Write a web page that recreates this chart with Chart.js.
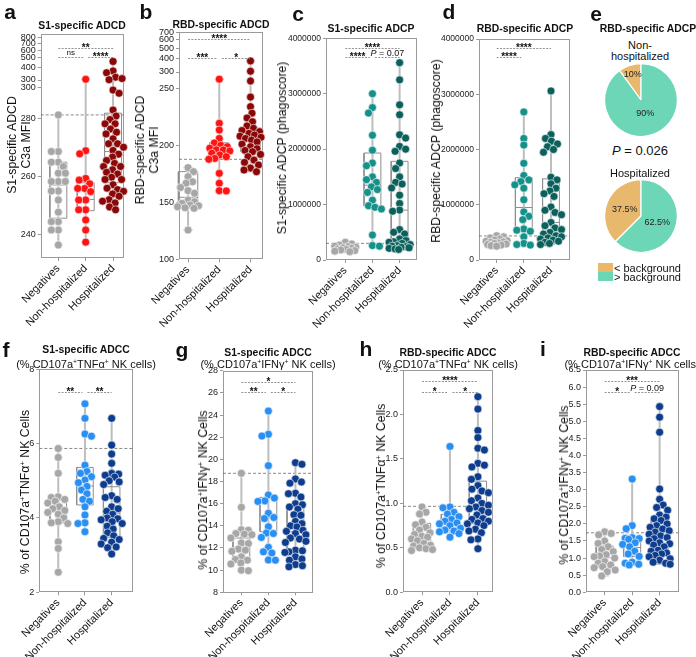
<!DOCTYPE html>
<html><head><meta charset="utf-8">
<script src="https://cdn.jsdelivr.net/npm/chart.js@4/dist/chart.umd.min.js"></script>
<style>
body{margin:0;width:696px;height:657px;position:relative;background:#fff;overflow:hidden;font-family:"Liberation Sans",Arial,Helvetica,sans-serif;color:#111}
.t{position:absolute;white-space:nowrap;line-height:1.15;text-align:center}
sup{font-size:0.62em;line-height:0;vertical-align:0.55em}
</style></head><body>
<script>
// ---------- data ----------
const GROUPS = ['Negatives', 'Non-hospitalized', 'Hospitalized'];

// a: S1-specific ADCD (C3a MFI)
const a_neg  = [281.4, 268.7, 268.7, 265.0, 265.0, 263.5, 261.2, 261.2, 258.3, 258.3, 258.3, 255.0, 255.0, 251.9, 247.7, 244.4, 244.4, 241.5, 241.5, 236.3];
const a_non  = [305, 269.0, 267.9, 259.4, 258.8, 257.5, 255.9, 255.9, 254.8, 251.9, 251.9, 248.5, 248.5, 245.0, 241.5, 237.3];
const a_hosp = [460, 370, 355, 320, 310, 302, 290.0, 288.9, 283.1, 281.0, 279.8, 278.3, 278.3, 276.5, 275.4, 274.8, 273.1, 271.4, 271.4, 270.2, 269.1, 267.8, 266.8, 265.6, 264.6, 263.5, 263.5, 262.4, 261.5, 260.9, 259.8, 259.0, 259.0, 257.2, 256.0, 255.5, 254.9, 254.0, 253.2, 252.0, 251.5, 250.9, 249.5, 248.5];
const a_q1 = [245.6, 248.2, 257.9], a_med = [257.1, 252.1, 268.7], a_q3 = [265.0, 257.9, 282.0];
const a_bg = 281.4;
const a_ticksLow = [240, 260, 280], a_ticksUp = [300, 400, 500, 600, 700, 800];

// b: RBD-specific ADCD (C3a MFI)
const b_neg  = [180.4, 176.9, 172.5, 168, 166.7, 163, 160.2, 157.9, 152.0, 150.5, 149.1, 147.6, 147, 146.1, 145.2, 144.7, 125.7];
const b_non  = [258, 219.3, 213.4, 206, 202, 200, 198.8, 197.5, 196, 195.9, 195, 193, 191.5, 190, 188.5, 187.7, 175.4, 166.7, 160.2, 160];
const b_hosp = [380, 305, 256.4, 242.3, 233.9, 228.2, 224, 220.7, 217, 214.9, 213, 212, 210.5, 209, 208, 207, 206, 204.6, 203, 201, 198.8, 197, 195.5, 194.4, 192, 190, 187, 185, 182.7, 180, 178.3, 176.8];
const b_q1 = [144.7, 187.7, 194.4], b_med = [154.4, 194.4, 205.2], b_q3 = [176.9, 202.3, 212.8];
const b_bg = 187.7;
const b_ticksLow = [100, 150, 200, 250], b_ticksUp = [300, 400, 500, 600, 700];

// c: S1-specific ADCP (phagoscore)
const c_neg  = [320000, 290000, 270000, 250000, 240000, 230000, 220000, 210000, 200000, 190000, 180000, 170000, 160000, 150000];
const c_non  = [3000000, 2750000, 2650000, 2250000, 1980000, 1750000, 1700000, 1500000, 1450000, 1400000, 1320000, 1270000, 1220000, 1080000, 980000, 950000, 920000, 450000, 260000, 250000];
const c_hosp = [3560000, 3250000, 2800000, 2620000, 2260000, 2200000, 2050000, 2000000, 1960000, 1750000, 1650000, 1500000, 1400000, 1370000, 1300000, 1170000, 1020000, 900000, 880000, 550000, 500000, 470000, 380000, 350000, 330000, 320000, 300000, 280000, 260000, 250000, 240000, 230000, 220000, 210000, 200000, 190000];
const c_q1 = [180000, 975000, 300000], c_med = [210000, 1350000, 900000], c_q3 = [250000, 1930000, 1780000];
const c_bg = 300000;
const c_ticks = [0, 1000000, 2000000, 3000000, 4000000];

// d: RBD-specific ADCP (phagoscore)
const d_neg  = [440000, 420000, 400000, 380000, 360000, 350000, 340000, 330000, 320000, 310000, 300000, 290000, 280000, 270000, 260000, 250000];
const d_non  = [2680000, 2200000, 2080000, 1750000, 1530000, 1450000, 1420000, 1360000, 1300000, 1090000, 870000, 790000, 730000, 560000, 540000, 520000, 420000, 300000, 280000, 270000];
const d_hosp = [3060000, 2270000, 2200000, 2150000, 2100000, 2050000, 2000000, 1950000, 1500000, 1450000, 1380000, 1300000, 1250000, 1200000, 1150000, 960000, 900000, 860000, 820000, 680000, 620000, 580000, 550000, 500000, 470000, 440000, 420000, 400000, 380000, 360000, 340000, 320000, 300000, 280000];
const d_q1 = [290000, 540000, 440000], d_med = [330000, 950000, 680000], d_q3 = [380000, 1490000, 1470000];
const d_bg = 435000;
const d_ticks = [0, 1000000, 2000000, 3000000, 4000000];

// e: RBD-specific ADCP, share of samples (%)
const e_labels = ['< background', '> background'];
const e_nonhosp = [10, 90];
const e_hosp = [37.5, 62.5];

// f: S1-specific ADCC (% CD107a+TNFa+ NK cells)
const f_neg  = [5.87, 5.63, 5.2, 4.57, 4.55, 4.5, 4.45, 4.4, 4.3, 4.25, 4.2, 4.15, 4.1, 4.0, 3.9, 3.87, 3.85, 3.36, 3.18, 2.54];
const f_non  = [7.07, 6.68, 6.26, 6.2, 5.42, 5.25, 5.2, 5.11, 5.02, 4.95, 4.85, 4.75, 4.65, 4.5, 4.45, 4.3, 4.08, 3.87, 3.85, 3.63];
const f_hosp = [6.68, 5.96, 5.72, 5.47, 5.2, 5.18, 5.15, 5.1, 5.0, 4.97, 4.9, 4.6, 4.55, 4.5, 4.3, 4.25, 4.18, 4.1, 4.0, 3.98, 3.95, 3.9, 3.85, 3.78, 3.7, 3.6, 3.52, 3.45, 3.42, 3.35, 3.3, 3.22, 3.2, 3.03];
const f_q1 = [3.87, 4.35, 3.48], f_med = [4.17, 4.86, 4.13], f_q3 = [4.48, 5.36, 4.84];
const f_bg = 5.87;
const f_ticks = [2, 4, 6, 8];

// g: S1-specific ADCC (% CD107a+IFNg+ NK cells)
const g_neg  = [18.74, 15.67, 13.65, 13.6, 13.3, 13.25, 13.2, 12.9, 12.45, 12.4, 11.9, 11.8, 11.7, 11.2, 10.95, 10.9, 10.65, 10.55, 10.0, 9.95];
const g_non  = [24.36, 22.26, 22.1, 19.43, 16.78, 16.5, 16.25, 16.2, 15.13, 14.75, 14.65, 13.92, 13.35, 13.3, 12.95, 12.06, 11.65, 11.55, 10.92, 10.9];
const g_hosp = [19.7, 19.55, 18.23, 17.95, 17.85, 16.94, 16.9, 16.6, 16.0, 15.9, 15.7, 15.5, 15.0, 14.95, 14.4, 14.2, 14.0, 13.9, 13.6, 13.5, 13.3, 13.2, 12.9, 12.8, 12.6, 12.5, 11.8, 11.75, 11.65, 11.6, 11.2, 11.0, 10.9, 10.5, 10.4, 10.3];
const g_q1 = [10.98, 13.47, 11.67], g_med = [11.97, 14.73, 13.47], g_q3 = [12.9, 16.57, 15.67];
const g_bg = 18.74;
const g_ticks = [8, 10, 12, 14, 16, 18, 20, 22, 24, 26, 28];

// h: RBD-specific ADCC (% CD107a+TNFa+ NK cells)
const h_neg  = [0.96, 0.9, 0.88, 0.79, 0.76, 0.73, 0.7, 0.67, 0.65, 0.63, 0.62, 0.6, 0.58, 0.55, 0.53, 0.52, 0.5, 0.49, 0.48, 0.47];
const h_non  = [1.64, 0.96, 0.95, 0.9, 0.88, 0.85, 0.82, 0.8, 0.78, 0.77, 0.75, 0.72, 0.7, 0.69, 0.68, 0.66, 0.62];
const h_hosp = [2.2, 2.06, 1.82, 1.74, 1.62, 1.6, 1.45, 1.43, 1.41, 1.3, 1.27, 1.2, 1.16, 1.14, 1.12, 1.06, 1.03, 1.0, 0.98, 0.96, 0.94, 0.92, 0.9, 0.87, 0.83, 0.82, 0.8, 0.78, 0.77, 0.75, 0.71, 0.69, 0.67, 0.6, 0.59, 0.49];
const h_q1 = [0.52, 0.70, 0.77], h_med = [0.625, 0.794, 0.97], h_q3 = [0.776, 0.877, 1.25];
const h_bg = 0.967;
const h_ticks = [0, 0.5, 1.0, 1.5, 2.0, 2.5];

// i: RBD-specific ADCC (% CD107a+IFNg+ NK cells)
const i_neg  = [1.77, 1.72, 1.68, 1.5, 1.43, 1.33, 1.25, 1.19, 1.1, 1.06, 1.04, 1.0, 0.9, 0.85, 0.8, 0.75, 0.72, 0.65, 0.6, 0.48];
const i_non  = [3.31, 1.95, 1.86, 1.6, 1.58, 1.57, 1.55, 1.45, 1.4, 1.33, 1.2, 1.12, 1.05, 0.88, 0.85, 0.82, 0.8];
const i_hosp = [5.43, 5.12, 4.68, 3.02, 2.72, 2.55, 2.48, 2.4, 2.26, 2.2, 2.15, 2.1, 2.0, 1.95, 1.9, 1.85, 1.8, 1.76, 1.7, 1.65, 1.6, 1.57, 1.5, 1.45, 1.42, 1.38, 1.33, 1.23, 1.2, 1.15, 1.12, 1.08, 1.04, 0.98, 0.94, 0.88, 0.85, 0.82];
const i_q1 = [0.73, 1.05, 1.17], i_med = [1.01, 1.31, 1.58], i_q3 = [1.35, 1.51, 2.11];
const i_bg = 1.74;
const i_ticks = [0, 0.5, 1.0, 1.5, 2.0, 2.5, 3.0, 3.5, 4.0, 4.5, 5.0, 5.5, 6.0, 6.5];

// ---------- styling ----------
const FONT = '"Liberation Sans", Arial, Helvetica, sans-serif';
const GRAY = '#a7a7a7';
const RED_SET = [GRAY, '#ff1414', '#8a0707'];
const TEAL_SET = [GRAY, '#15918a', '#0b605b'];
const BLUE_SET = [GRAY, '#2a8ff2', '#0e3d8e'];
const TAN = '#e8b96c', MINT = '#6dd6b7';
const BOXW = 0.31, CAPW = 0.15;

const framePlugin = {
  id: 'frame',
  beforeDatasetsDraw(chart) {
    const {ctx, chartArea: a} = chart;
    ctx.save();
    ctx.strokeStyle = '#9a9a9a'; ctx.lineWidth = 1;
    ctx.strokeRect(Math.round(a.left) + 0.5, Math.round(a.top) + 0.5, Math.round(a.right - a.left) - 1, Math.round(a.bottom - a.top) - 1);
    ctx.restore();
  }
};

function drawSigLabel(ctx, t, x, y) {
  ctx.fillStyle = '#111';
  ctx.textBaseline = 'alphabetic';
  if (t.charAt(0) === 'P') {
    const p1 = 'P', p2 = t.slice(1);
    ctx.font = 'italic 9px ' + FONT; const w1 = ctx.measureText(p1).width;
    ctx.font = '9px ' + FONT; const w2 = ctx.measureText(p2).width;
    const sx = x - (w1 + w2) / 2;
    ctx.textAlign = 'left';
    ctx.font = 'italic 9px ' + FONT; ctx.fillText(p1, sx, y - 2);
    ctx.font = '9px ' + FONT; ctx.fillText(p2, sx + w1, y - 2);
  } else if (t === 'ns') {
    ctx.font = '8px ' + FONT; ctx.textAlign = 'center'; ctx.fillText(t, x, y - 2.5);
  } else {
    ctx.font = 'bold 10px ' + FONT; ctx.textAlign = 'center'; ctx.fillText(t, x, y + 2.5);
  }
}

const sigPlugin = {
  id: 'sig',
  afterDatasetsDraw(chart, args, opts) {
    if (!opts || !opts.items) return;
    const {ctx, chartArea: a} = chart;
    const xs = chart.scales.x;
    ctx.save();
    opts.items.forEach(it => {
      const y = Math.round(a.top + (it.row === 'top' ? opts.top : opts.low)) + 0.5;
      let x1 = xs.getPixelForValue(it.from), x2 = xs.getPixelForValue(it.to);
      if (it.row !== 'top') { if (it.from === 1) x1 += 2.5; if (it.to === 1) x2 -= 2.5; }
      ctx.strokeStyle = '#777'; ctx.lineWidth = 0.8; ctx.setLineDash([2, 1.3]);
      ctx.beginPath(); ctx.moveTo(x1, y); ctx.lineTo(x2, y); ctx.stroke();
      ctx.setLineDash([]);
      drawSigLabel(ctx, it.text, (x1 + x2) / 2, y);
    });
    ctx.restore();
  }
};

function swarm(chart) {
  const xs = chart.scales.x;
  const unit = xs.getPixelForValue(1) - xs.getPixelForValue(0);
  const D = 6.6, MAXOFF = 10.5;
  [0, 1, 2].forEach(g => {
    const pts = [];
    chart.data.datasets.forEach(ds => {
      if (ds.grp === g) ds.data.forEach(pt => pts.push({pt, py: chart.scales[ds.yAxisID].getPixelForValue(pt.y)}));
    });
    pts.sort((p, q) => p.py - q.py);
    const placed = [];
    pts.forEach((p, idx) => {
      const cands = [0];
      const s = idx % 2 ? 1 : -1;
      for (let m = 0.5; m <= MAXOFF; m += 0.5) { cands.push(s * m, -s * m); }
      let best = 0, bestScore = -1;
      for (const off of cands) {
        let md = Infinity;
        for (const q of placed) {
          const dy = q.py - p.py;
          if (Math.abs(dy) >= D) continue;
          const dx = q.off - off;
          const d = Math.sqrt(dx * dx + dy * dy);
          if (d < md) md = d;
        }
        if (md >= D) { best = off; bestScore = md; break; }
        if (md > bestScore) { bestScore = md; best = off; }
      }
      placed.push({py: p.py, off: best});
      p.pt.x = g + best / unit;
    });
  });
  chart.update('none');
}

function tickSetter(list) { return s => { s.ticks = list.map(v => ({value: v})); }; }

const rowGeom = [{top: 0, h: 330}, {top: 335, h: 322}];

function buildBoxPanel(p) {
  const [L, T, R, B] = p.chart;
  const row = rowGeom[p.row];
  const cl = Math.max(0, L - 44), ct = row.top, cw = Math.round(R + 6 - cl), ch = row.h;
  const cv = document.createElement('canvas');
  cv.width = cw; cv.height = ch;
  cv.style.cssText = `position:absolute;left:${cl}px;top:${ct}px;width:${cw}px;height:${ch}px`;
  document.body.appendChild(cv);
  const yW = L - cl, topPad = T - ct, xH = ct + ch - B, rightPad = cl + cw - R;

  const axisOf = v => (p.split && v >= p.split.upMin) ? 'yUp' : 'y';
  const pointsDs = [], medDs = [], boxDs = [], capDs = [], whDs = [];
  p.data.forEach((vals, g) => {
    const col = p.colors[g];
    ['y', 'yUp'].forEach(ax => {
      const sub = vals.filter(v => axisOf(v) === ax);
      if (!sub.length) return;
      pointsDs.push({data: sub.map(v => ({x: g, y: v})), yAxisID: ax, grp: g, showLine: false,
        pointRadius: 4, pointHoverRadius: 4, pointBackgroundColor: col, backgroundColor: col,
        pointBorderColor: '#ffffff', borderColor: '#ffffff', pointBorderWidth: 0.6, clip: false});
    });
    const line = (pts, ax, color, w) => ({data: pts, yAxisID: ax, showLine: true, borderColor: color, borderWidth: w,
      pointRadius: 0, pointHoverRadius: 0, fill: false, tension: 0, clip: false});
    const q1 = p.q1[g], q3 = p.q3[g], md = p.med[g];
    const mn = Math.min(...vals), mx = Math.max(...vals);
    boxDs.push(line([{x: g - BOXW, y: q1}, {x: g + BOXW, y: q1}, {x: g + BOXW, y: q3}, {x: g - BOXW, y: q3}, {x: g - BOXW, y: q1}], 'y', '#8d8d8d', 1));
    medDs.push(line([{x: g - BOXW, y: md}, {x: g + BOXW, y: md}], 'y', '#8d8d8d', 1));
    if (p.split && mx >= p.split.upMin) {
      whDs.push(line([{x: g, y: mn}, {x: g, y: p.split.lowMax}], 'y', '#bdbdbd', 2));
      whDs.push(line([{x: g, y: p.split.upMin}, {x: g, y: mx}], 'yUp', '#bdbdbd', 2));
    } else {
      whDs.push(line([{x: g, y: mn}, {x: g, y: mx}], 'y', '#bdbdbd', 2));
    }
    capDs.push(line([{x: g - CAPW, y: mn}, {x: g + CAPW, y: mn}], axisOf(mn), '#bdbdbd', 1.2));
    capDs.push(line([{x: g - CAPW, y: mx}, {x: g + CAPW, y: mx}], axisOf(mx), '#bdbdbd', 1.2));
  });
  const bgDs = {data: [{x: p.xr[0], y: p.bg}, {x: p.xr[1], y: p.bg}], yAxisID: 'y', showLine: true,
    borderColor: '#6a6a6a', borderWidth: 0.8, borderDash: [3, 2], pointRadius: 0, fill: false};

  const yCommon = {
    position: 'left',
    grid: {drawOnChartArea: false, drawTicks: true, tickLength: 3, color: '#9a9a9a', lineWidth: 1},
    border: {display: false},
    ticks: {font: {size: p.tickFont || 9, family: FONT}, color: '#222', padding: 2, autoSkip: false},
    afterFit: s => { s.width = yW; }
  };
  const scales = {};
  if (p.split) {
    const sp = p.split;
    const upH = sp.upPx, lowH = (B - T) - sp.upPx;
    const lowTicks = sp.lowTicks.concat(sp.extra.map(e => e.v));
    scales.y = Object.assign({}, yCommon, {type: 'linear', stack: 's', stackWeight: lowH, min: sp.lowMin, max: sp.lowMax,
      afterBuildTicks: tickSetter(lowTicks),
      ticks: Object.assign({}, yCommon.ticks, {callback: v => { const e = sp.extra.find(e => e.v === v); return e ? e.l : String(v); }})});
    scales.yUp = Object.assign({}, yCommon, {type: 'logarithmic', stack: 's', stackWeight: upH, min: sp.upMin, max: sp.upMax,
      afterBuildTicks: tickSetter(sp.upTicks),
      ticks: Object.assign({}, yCommon.ticks, {callback: v => String(v)})});
  } else {
    scales.y = Object.assign({}, yCommon, {type: 'linear', min: p.yr[0], max: p.yr[1],
      afterBuildTicks: tickSetter(p.ticks),
      ticks: Object.assign({}, yCommon.ticks, {callback: p.fmt})});
  }
  scales.x = {type: 'linear', position: 'bottom', min: p.xr[0], max: p.xr[1],
    afterBuildTicks: tickSetter([0, 1, 2]),
    grid: {drawOnChartArea: false, drawTicks: true, tickLength: 3, color: '#9a9a9a'},
    border: {display: false},
    ticks: {font: {size: 11, family: FONT}, color: '#111', minRotation: 45, maxRotation: 45, autoSkip: false, padding: 1,
      callback: v => GROUPS[v]},
    afterFit: s => { s.height = xH; }
  };

  const chart = new Chart(cv, {
    type: 'scatter',
    data: {datasets: [].concat(pointsDs, medDs, boxDs, capDs, whDs, [bgDs])},
    options: {
      responsive: false, animation: false, events: [],
      layout: {padding: {left: 0, top: topPad, right: rightPad, bottom: 0}},
      scales,
      plugins: {legend: {display: false}, tooltip: {enabled: false}, sig: p.sig}
    },
    plugins: [framePlugin, sigPlugin]
  });
  swarm(chart);
}

const PANELS = [
  {data: [a_neg, a_non, a_hosp], q1: a_q1, med: a_med, q3: a_q3, bg: a_bg, colors: RED_SET,
    chart: [40.7, 34, 124, 258], row: 0, xr: [-0.645, 2.4],
    split: {lowMin: 231.8, lowMax: 293.5, lowTicks: a_ticksLow, extra: [{v: 291, l: '300'}], upMin: 300, upMax: 871, upTicks: a_ticksUp, upPx: 46},
    sig: {top: 14.3, low: 23.3, items: [{from: 0, to: 2, row: 'top', text: '**'}, {from: 0, to: 1, row: 'low', text: 'ns'}, {from: 1, to: 2, row: 'low', text: '****'}]}},
  {data: [b_neg, b_non, b_hosp], q1: b_q1, med: b_med, q3: b_q3, bg: b_bg, colors: RED_SET,
    chart: [179.3, 32, 263.3, 259.3], row: 0, xr: [-0.29, 2.4],
    split: {lowMin: 100, lowMax: 264.3, lowTicks: b_ticksLow, extra: [], upMin: 300, upMax: 704, upTicks: b_ticksUp, upPx: 40},
    sig: {top: 7.3, low: 26.3, items: [{from: 0, to: 2, row: 'top', text: '****'}, {from: 0, to: 1, row: 'low', text: '***'}, {from: 1, to: 2, row: 'low', text: '*'}]}},
  {data: [c_neg, c_non, c_hosp], q1: c_q1, med: c_med, q3: c_q3, bg: c_bg, colors: TEAL_SET, tickFont: 8.5,
    chart: [325.7, 38.3, 416.7, 260], row: 0, xr: [-0.71, 2.64], yr: [0, 4000000], ticks: c_ticks, fmt: v => String(v),
    sig: {top: 9.4, low: 19, items: [{from: 0, to: 2, row: 'top', text: '****'}, {from: 0, to: 1, row: 'low', text: '****'}, {from: 1, to: 2, row: 'low', text: 'P = 0.07'}]}},
  {data: [d_neg, d_non, d_hosp], q1: d_q1, med: d_med, q3: d_q3, bg: d_bg, colors: TEAL_SET, tickFont: 8.5,
    chart: [479, 39, 570, 260], row: 0, xr: [-0.65, 2.7], yr: [0, 4000000], ticks: d_ticks, fmt: v => String(v),
    sig: {top: 9.3, low: 18.3, items: [{from: 0, to: 2, row: 'top', text: '****'}, {from: 0, to: 1, row: 'low', text: '****'}]}},
  {data: [f_neg, f_non, f_hosp], q1: f_q1, med: f_med, q3: f_q3, bg: f_bg, colors: BLUE_SET,
    chart: [39.3, 369.3, 133.3, 592.3], row: 1, xr: [-0.71, 2.81], yr: [2, 8], ticks: f_ticks, fmt: v => String(v),
    sig: {top: 12, low: 22.4, items: [{from: 0, to: 1, row: 'low', text: '**'}, {from: 1, to: 2, row: 'low', text: '**'}]}},
  {data: [g_neg, g_non, g_hosp], q1: g_q1, med: g_med, q3: g_q3, bg: g_bg, colors: BLUE_SET,
    chart: [223.3, 370.7, 313.3, 592.3], row: 1, xr: [-0.68, 2.65], yr: [8, 28], ticks: g_ticks, fmt: v => String(v),
    sig: {top: 11.6, low: 21, items: [{from: 0, to: 2, row: 'top', text: '*'}, {from: 0, to: 1, row: 'low', text: '**'}, {from: 1, to: 2, row: 'low', text: '*'}]}},
  {data: [h_neg, h_non, h_hosp], q1: h_q1, med: h_med, q3: h_q3, bg: h_bg, colors: BLUE_SET,
    chart: [403.3, 370, 493.3, 592.3], row: 1, xr: [-0.68, 2.54], yr: [0, 2.5], ticks: h_ticks, fmt: v => v.toFixed(1),
    sig: {top: 11, low: 21.7, items: [{from: 0, to: 2, row: 'top', text: '****'}, {from: 0, to: 1, row: 'low', text: '*'}, {from: 1, to: 2, row: 'low', text: '*'}]}},
  {data: [i_neg, i_non, i_hosp], q1: i_q1, med: i_med, q3: i_q3, bg: i_bg, colors: BLUE_SET,
    chart: [585.7, 370, 678.3, 592.3], row: 1, xr: [-0.68, 2.69], yr: [0, 6.5], ticks: i_ticks, fmt: v => v.toFixed(1),
    sig: {top: 11, low: 21.7, items: [{from: 0, to: 2, row: 'top', text: '***'}, {from: 0, to: 1, row: 'low', text: '*'}, {from: 1, to: 2, row: 'low', text: 'P = 0.09'}]}}
];
PANELS.forEach(buildBoxPanel);

// ---------- pies ----------
const pieLabelPlugin = {
  id: 'pieLabels',
  afterDatasetsDraw(chart) {
    const {ctx} = chart;
    const meta = chart.getDatasetMeta(0);
    const vals = chart.data.datasets[0].data;
    ctx.save();
    ctx.font = '9px ' + FONT; ctx.fillStyle = '#222'; ctx.textAlign = 'center'; ctx.textBaseline = 'middle';
    meta.data.forEach((arc, k) => {
      const pr = arc.getProps(['x', 'y', 'startAngle', 'endAngle', 'outerRadius'], true);
      const mid = (pr.startAngle + pr.endAngle) / 2;
      const v = vals[k];
      const f = v < 20 ? 0.74 : (v > 80 ? 0.38 : 0.48);
      ctx.fillText(v + '%', pr.x + Math.cos(mid) * pr.outerRadius * f, pr.y + Math.sin(mid) * pr.outerRadius * f);
    });
    ctx.restore();
  }
};
function buildPie(vals, cx, cy) {
  const S = 76;
  const cv = document.createElement('canvas');
  cv.width = S; cv.height = S;
  cv.style.cssText = `position:absolute;left:${cx - S / 2}px;top:${cy - S / 2}px;width:${S}px;height:${S}px`;
  document.body.appendChild(cv);
  new Chart(cv, {
    type: 'pie',
    data: {labels: e_labels, datasets: [{data: vals, backgroundColor: [TAN, MINT], borderColor: '#ffffff', borderWidth: 1.2}]},
    options: {responsive: false, animation: false, events: [], rotation: -360 * vals[0] / (vals[0] + vals[1]),
      layout: {padding: 1}, plugins: {legend: {display: false}, tooltip: {enabled: false}}},
    plugins: [pieLabelPlugin]
  });
}
buildPie(e_nonhosp, 640.5, 100);
buildPie(e_hosp, 640.5, 215.5);

// ---------- text ----------
function txt(html, x, y, style, rot) {
  const d = document.createElement('div');
  d.className = 't';
  d.innerHTML = html;
  d.style.cssText += `left:${x}px;top:${y}px;transform:translate(-50%,-50%)${rot ? ' rotate(-90deg)' : ''};` + (style || '');
  document.body.appendChild(d);
}
const B = 'font-weight:bold;font-size:10.4px;';
const N = 'font-size:11px;';
const AX = 'font-size:12.3px;line-height:14px;';
const LET = 'font-weight:bold;font-size:21px;';
// panel letters
[['a', 10, 12], ['b', 146, 12], ['c', 298, 14], ['d', 449, 12], ['e', 596, 14],
 ['f', 6, 350], ['g', 182, 350], ['h', 366, 349], ['i', 543, 349]].forEach(l => txt(l[0], l[1], l[2], LET));
// titles
txt('S1-specific ADCD', 82, 26, B);
txt('RBD-specific ADCD', 221, 25, B);
txt('S1-specific ADCP', 371, 29, B);
txt('RBD-specific ADCP', 525, 29, B);
txt('RBD-specific ADCP', 648, 29, B);
txt('S1-specific ADCC', 86, 350, B);
txt('(% CD107a<sup>+</sup>TNF&alpha;<sup>+</sup> NK cells)', 86, 363.5, N);
txt('S1-specific ADCC', 268, 352.5, B);
txt('(% CD107a<sup>+</sup>IFN&gamma;<sup>+</sup> NK cells)', 268, 363.5, N);
txt('RBD-specific ADCC', 448, 352.5, B);
txt('(% CD107a<sup>+</sup>TNF&alpha;<sup>+</sup> NK cells)', 448, 363.5, N);
txt('RBD-specific ADCC', 632, 352.5, B);
txt('(% CD107a<sup>+</sup>IFN&gamma;<sup>+</sup> NK cells)', 632, 363.5, N);
// axis titles
txt('S1-specific ADCD<br>C3a MFI', 19, 145, AX, true);
txt('RBD-specific ADCD<br>C3a MFI', 147, 150, AX, true);
txt('S1-specific ADCP (phagoscore)', 282, 148, AX, true);
txt('RBD-specific ADCP (phagoscore)', 436, 151, AX, true);
txt('% of CD107a<sup>+</sup>TNF&alpha;<sup>+</sup> NK Cells', 25, 492, AX, true);
txt('% of CD107a<sup>+</sup>IFN&gamma;<sup>+</sup> NK Cells', 203, 490, AX, true);
txt('% of CD107a<sup>+</sup>TNF&alpha;<sup>+</sup> NK Cells', 381, 486, AX, true);
txt('% of CD107a<sup>+</sup>IFN&gamma;<sup>+</sup> NK Cells', 564, 485, AX, true);
// pie panel texts
txt('Non-<br>hospitalized', 640, 50, N + 'line-height:10.5px;');
txt('<i>P</i> = 0.026', 640, 151, 'font-size:13px;');
txt('Hospitalized', 640, 173, N);
// legend
const lg = (color, label, y) => {
  const sw = document.createElement('div');
  sw.style.cssText = `position:absolute;left:598px;top:${y - 4.5}px;width:15px;height:9px;background:${color}`;
  document.body.appendChild(sw);
  const t = document.createElement('div');
  t.className = 't';
  t.textContent = label;
  t.style.cssText += `left:614px;top:${y}px;transform:translate(0,-50%);font-size:11px;text-align:left;`;
  document.body.appendChild(t);
};
lg(TAN, e_labels[0], 267.5);
lg(MINT, e_labels[1], 276.5);
</script>
</body></html>
